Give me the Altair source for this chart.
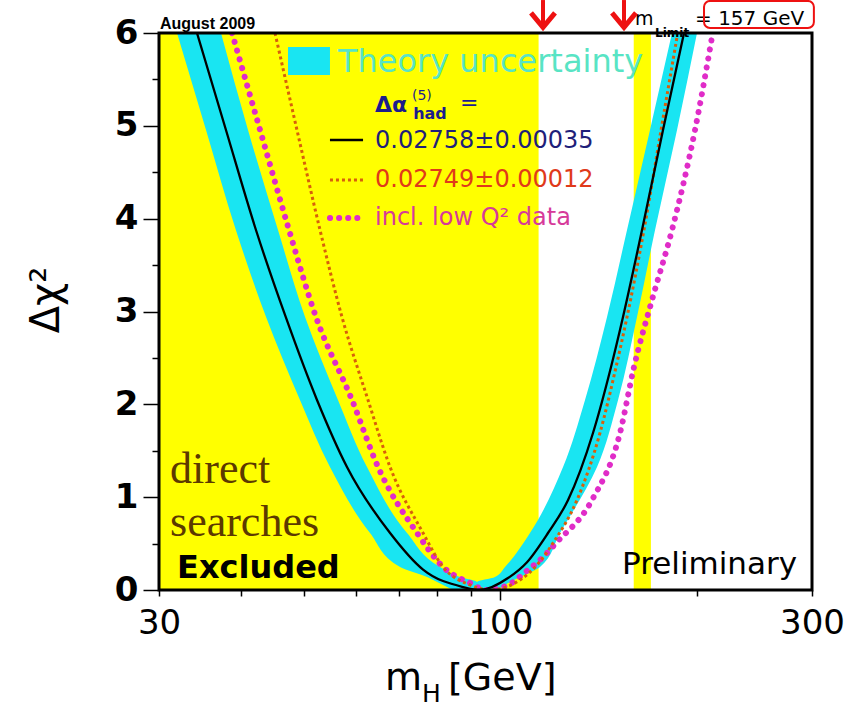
import altair as alt
import pandas as pd

# ---------------- data ----------------
X_MIN, X_MAX = 30, 300
Y_MIN, Y_MAX = 0, 6

# directly excluded mass ranges [GeV]
excl_lo = [30, 160]
excl_hi = [114.4, 170]

# Δα_had = 0.02758 ± 0.00035 (black, solid)
black_m = [34.30, 37.99, 42.23, 46.90, 52.37, 58.21, 67.76, 76.12, 87.64, 93.05,
           102.70, 109.82, 118.25, 126.93, 138.59, 147.69, 154.06, 164.74, 177.40, 191.04]
black_chi2 = [6.0, 4.955, 3.878, 2.941, 2.047, 1.325, 0.614, 0.22, 0.032, 0.0,
              0.129, 0.30, 0.614, 0.969, 1.691, 2.402, 2.941, 3.878, 4.955, 6.0]

# Δα_had = 0.02749 ± 0.00012 (orange, small dots)
orange_m = [45.16, 48.80, 52.93, 57.19, 62.69, 67.76, 76.12, 81.68, 89.84, 96.39,
            107.13, 114.43, 120.37, 130.99, 142.04, 150.32, 156.26, 165.88, 176.17, 186.39]
orange_chi2 = [6.0, 4.955, 3.878, 2.941, 2.047, 1.325, 0.614, 0.248, 0.054, 0.0,
               0.108, 0.29, 0.506, 0.969, 1.691, 2.402, 2.941, 3.878, 4.955, 5.957]

# incl. low Q^2 data (magenta, big dots)
mag_m = [38.81, 42.84, 47.45, 52.18, 59.25, 64.95, 74.52, 81.68, 89.84, 95.0,
         102.70, 110.21, 114.97, 121.66, 138.10, 152.44, 160.15, 170.65, 183.12, 198.6, 210.87]
mag_chi2 = [6.0, 4.955, 3.878, 2.941, 2.047, 1.325, 0.614, 0.248, 0.075, 0.0,
            0.054, 0.216, 0.323, 0.506, 0.969, 1.691, 2.402, 3.124, 3.878, 4.955, 5.957]

# theory-uncertainty band edges (mass at each Δχ² level)
band_chi2 = [6.0, 4.955, 3.878, 2.941, 2.047, 1.325, 0.614, 0.248, 0.140, 0.086, 0.0]
band_left_outer = [31.97, 35.41, 39.34, 43.76, 49.32, 54.82, 63.13, 70.19, 77.20, 80.0, 84.60]
band_left_inner = [37.33, 41.06, 45.64, 50.21, 56.39, 62.47, 71.94, 80.82, 86.7, 92.07, 92.07]
band_right_inner = [183.12, 169.44, 156.26, 145.62, 134.75, 124.7, 110.97, 101.62, 98.1, 92.07, 92.07]
band_right_outer = [200.0, 186.39, 172.48, 161.85, 151.4, 140.58, 123.37, 114.97, 107.13, 103.42, 98.80]

y_major = [0, 1, 2, 3, 4, 5, 6]
y_minor = [0.5, 1.5, 2.5, 3.5, 4.5, 5.5]
x_labels = [30, 100, 300]
x_major = [100]
x_minor = [30, 40, 50, 60, 70, 80, 90, 200, 300]

# arrows at the LEP limit and the upper mass limit
arrow_m = [116.2, 154.6]

# ---------------- styles ----------------
YELLOW = "#ffff00"
CYAN = "#19e5f2"
ORANGE = "#d8600a"
MAGENTA = "#e02cc8"
RED = "#ee1111"
NAVY = "#1c1c8c"
SANS = "DejaVu Sans"

xs = alt.Scale(type="log", domain=[X_MIN, X_MAX], nice=False)
ys = alt.Scale(domain=[Y_MIN, Y_MAX], nice=False, zero=False)

W, H = 653, 557


def X(field, axis=None):
    return alt.X(field, type="quantitative", scale=xs, axis=axis)


def Y(field, axis=None):
    return alt.Y(field, type="quantitative", scale=ys, axis=axis)


def label(text, m, c, size, color="black", font=SANS, weight="normal",
          angle=0, align="left", baseline="alphabetic"):
    d = pd.DataFrame({"m": [m], "c": [c], "t": [text]})
    return alt.Chart(d).mark_text(
        align=align, baseline=baseline, font=font, fontSize=size,
        fontWeight=weight, color=color, angle=angle
    ).encode(x=X("m"), y=Y("c"), text="t:N")


common_axis = dict(domain=False, grid=False, title=None, tickColor="black",
                   tickWidth=1.5)

# yellow excluded regions (carry the major axes)
excl_df = pd.DataFrame({"lo": excl_lo, "hi": excl_hi,
                        "y0": [Y_MIN] * len(excl_lo), "y1": [Y_MAX] * len(excl_lo)})
yellow = alt.Chart(excl_df).mark_rect(color=YELLOW).encode(
    x=X("lo", alt.Axis(orient="bottom", values=x_major, tickSize=10, labels=False,
                       **common_axis)),
    x2="hi",
    y=Y("y0", alt.Axis(orient="left", values=y_major, tickSize=16, labelFont=SANS,
                       labelFontWeight="bold", labelFontSize=34, labelPadding=5,
                       labelColor="black", labelOverlap=False, **common_axis)),
    y2="y1",
)

band_df = pd.DataFrame({"c": band_chi2, "lo": band_left_outer, "li": band_left_inner,
                        "ri": band_right_inner, "ro": band_right_outer})
band_left = alt.Chart(band_df).mark_area(
    orient="horizontal", color=CYAN, interpolate="monotone"
).encode(
    x=X("lo", alt.Axis(orient="bottom", values=x_minor, tickSize=6, labels=False,
                       **common_axis)),
    x2="li",
    y=Y("c", alt.Axis(orient="left", values=y_minor, tickSize=7, labels=False,
                      **common_axis)),
)
band_right = alt.Chart(band_df).mark_area(
    orient="horizontal", color=CYAN, interpolate="monotone"
).encode(
    x=X("ri", alt.Axis(orient="bottom", values=x_labels, ticks=False, tickSize=0,
                       labelPadding=16, labelFont=SANS, labelFontSize=34,
                       labelColor="black", labelFlush=False, labelOverlap=False,
                       domain=False, grid=False, title=None)),
    x2="ro",
    y=Y("c"),
)

mag = alt.Chart(pd.DataFrame({"m": mag_m, "c": mag_chi2})).mark_line(
    color=MAGENTA, strokeWidth=6, strokeDash=[0.1, 9], strokeCap="round",
    interpolate="monotone", clip=True
).encode(x=X("m"), y=Y("c"))

orange = alt.Chart(pd.DataFrame({"m": orange_m, "c": orange_chi2})).mark_line(
    color=ORANGE, strokeWidth=3, strokeDash=[3, 3],
    interpolate="monotone", clip=True
).encode(x=X("m"), y=Y("c"))

black = alt.Chart(pd.DataFrame({"m": black_m, "c": black_chi2})).mark_line(
    color="black", strokeWidth=2.3, interpolate="monotone", clip=True
).encode(x=X("m"), y=Y("c"))

# legend
leg_sq = alt.Chart(pd.DataFrame({"a": [47.28], "b": [54.82], "c0": [5.548], "c1": [5.849]})
                   ).mark_rect(color=CYAN).encode(x=X("a"), x2="b", y=Y("c0"), y2="c1")

leg_rows = pd.DataFrame({"a": [54.82], "b": [61.6]})
leg_black = alt.Chart(leg_rows.assign(c=4.847)).mark_rule(
    color="black", strokeWidth=2.5).encode(x=X("a"), x2="b", y=Y("c"))
leg_orange = alt.Chart(leg_rows.assign(c=4.417)).mark_rule(
    color=ORANGE, strokeWidth=3, strokeDash=[3, 3]).encode(x=X("a"), x2="b", y=Y("c"))
leg_mag = alt.Chart(leg_rows.assign(c=4.007)).mark_rule(
    color=MAGENTA, strokeWidth=6, strokeDash=[0.1, 9], strokeCap="round"
).encode(x=X("a"), x2="b", y=Y("c"))

texts = [
    label("Theory uncertainty", 56.39, 5.58, 32, color="#58e4c4"),
    label("Δα", 64.26, 5.149, 22, color=NAVY, weight="bold"),
    label("(5)", 73.2, 5.278, 14, color=NAVY),
    label("had", 73.5, 5.074, 16, color=NAVY, weight="bold"),
    label("=", 86.7, 5.171, 22, color=NAVY),
    label("0.02758±0.00035", 64.26, 4.761, 24, color="#1f1f7a"),
    label("0.02749±0.00012", 64.26, 4.341, 24, color="#e03a1a"),
    label("incl. low Q² data", 64.26, 3.932, 24, color="#d63a9a"),
    label("direct", 31.19, 1.153, 44, color="#5c3900", font="Liberation Serif"),
    label("searches", 31.19, 0.582, 44, color="#5c3900", font="Liberation Serif"),
    label("Excluded", 31.97, 0.129, 32, weight="bold"),
    label("Preliminary", 153.51, 0.172, 31),
    label("August 2009", 30.1, 6.043, 16, font="Liberation Sans", weight="bold"),
    label("m", 160.7, 6.086, 19),
    label("Limit", 172.48, 5.957, 12, weight="bold"),
    label("= 157 GeV", 198.6, 6.086, 20),
    label("m", 66.56, -1.077, 38),
    label("H", 75.86, -1.205, 25),
    label("[GeV]", 83.13, -1.077, 38),
    label("Δχ²", 20.2, 3.124, 40, angle=270, align="center", baseline="middle"),
]

frame = alt.Chart(pd.DataFrame({"a": [X_MIN], "b": [X_MAX], "c0": [Y_MIN], "c1": [Y_MAX]})
                  ).mark_rect(fillOpacity=0, stroke="black", strokeWidth=3
                              ).encode(x=X("a"), x2="b", y=Y("c0"), y2="c1")

box = alt.Chart(pd.DataFrame({"a": [205], "b": [302], "c0": [6.054], "c1": [6.345]})
                ).mark_rect(fillOpacity=0, stroke=RED, strokeWidth=2, cornerRadius=6
                            ).encode(x=X("a"), x2="b", y=Y("c0"), y2="c1")

arr_df = pd.DataFrame({"m": arrow_m, "top": [6.355] * 2, "bot": [6.097] * 2,
                       "head": [6.146] * 2})
arrow_stem = alt.Chart(arr_df).mark_rule(color=RED, strokeWidth=4).encode(
    x=X("m"), y=Y("top"), y2="bot")
arrow_head = alt.Chart(arr_df).mark_point(
    shape="M -1 -0.55 L 0 0.65 L 1 -0.55", size=576, filled=False,
    stroke=RED, strokeWidth=5, opacity=1
).encode(x=X("m"), y=Y("head"))

chart = alt.layer(
    yellow, band_left, band_right, mag, orange, black,
    leg_sq, leg_black, leg_orange, leg_mag,
    *texts, frame, box, arrow_stem, arrow_head
).resolve_axis(x="independent", y="independent").properties(
    width=W, height=H,
    autosize=alt.AutoSizeParams(type="none"),
    padding={"left": 159, "top": 33, "right": 46, "bottom": 117},
).configure_view(stroke=None).configure(background="white")

chart.save("out.html", embed_options={"renderer": "svg", "actions": False})
